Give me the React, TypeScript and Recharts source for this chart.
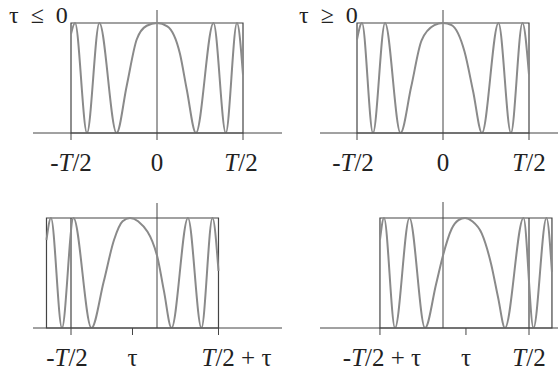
import React from "react"
import {
  ComposedChart,
  Line,
  XAxis,
  YAxis,
  ReferenceArea,
  ReferenceLine,
} from "recharts"

// Chirp intensity inside the window, time in units of T/2 (window edges at +-1 before the shift)
const curveNeg = [
  { t: -1, v: 0.9 },
  { t: -0.953, v: 1 },
  { t: -0.814, v: 0 },
  { t: -0.67, v: 1 },
  { t: -0.47, v: 0 },
  { t: -0.352, v: 0.43 },
  { t: -0.236, v: 0.85 },
  { t: -0.12, v: 0.975 },
  { t: 0, v: 1 },
  { t: 0.12, v: 0.97 },
  { t: 0.267, v: 0.72 },
  { t: 0.345, v: 0.4 },
  { t: 0.453, v: 0 },
  { t: 0.657, v: 1 },
  { t: 0.8, v: 0 },
  { t: 0.93, v: 1 },
  { t: 1, v: 0.53 },
]

const curvePos = [
  { t: -1, v: 0.85 },
  { t: -0.942, v: 1 },
  { t: -0.814, v: 0 },
  { t: -0.674, v: 1 },
  { t: -0.494, v: 0 },
  { t: -0.37, v: 0.42 },
  { t: -0.25, v: 0.84 },
  { t: -0.1, v: 0.98 },
  { t: 0, v: 1 },
  { t: 0.1, v: 0.98 },
  { t: 0.25, v: 0.74 },
  { t: 0.35, v: 0.38 },
  { t: 0.453, v: 0 },
  { t: 0.645, v: 1 },
  { t: 0.79, v: 0 },
  { t: 0.924, v: 1 },
  { t: 1, v: 0.53 },
]

// shifted windows: tau < 0 (left) and tau > 0 (right)
const tauNeg = -0.285
const tauPos = 0.267

const curveShiftNeg = [
  { t: -1.285, v: 0.8 },
  { t: -1.233, v: 1 },
  { t: -1.105, v: 0 },
  { t: -0.971, v: 1 },
  { t: -0.762, v: 0 },
  { t: -0.62, v: 0.42 },
  { t: -0.5, v: 0.8 },
  { t: -0.4, v: 0.97 },
  { t: -0.314, v: 1 },
  { t: -0.22, v: 0.97 },
  { t: 0, v: 0.66 },
  { t: 0.08, v: 0.34 },
  { t: 0.169, v: 0 },
  { t: 0.36, v: 1 },
  { t: 0.517, v: 0 },
  { t: 0.645, v: 1 },
  { t: 0.715, v: 0.52 },
]

const curveShiftPos = [
  { t: -0.733, v: 0.8 },
  { t: -0.686, v: 1 },
  { t: -0.558, v: 0 },
  { t: -0.39, v: 1 },
  { t: -0.209, v: 0 },
  { t: -0.08, v: 0.4 },
  { t: 0, v: 0.66 },
  { t: 0.1, v: 0.9 },
  { t: 0.18, v: 0.98 },
  { t: 0.256, v: 1 },
  { t: 0.34, v: 0.97 },
  { t: 0.45, v: 0.86 },
  { t: 0.56, v: 0.58 },
  { t: 0.64, v: 0.28 },
  { t: 0.721, v: 0 },
  { t: 0.936, v: 1 },
  { t: 1.052, v: 0 },
  { t: 1.203, v: 1 },
  { t: 1.267, v: 0.51 },
]

const ticksTop = [-1, 0, 1]
const labelsTop = ["-T/2", "0", "T/2"]
const ticksShiftNeg = [-1, tauNeg, 1 + tauNeg]
const labelsShiftNeg = ["-T/2", "τ", "T/2 + τ"]
const ticksShiftPos = [-1 + tauPos, tauPos, 1]
const labelsShiftPos = ["-T/2 + τ", "τ", "T/2"]

const INK = "#444"
const CURVE = "#8a8a8a"
const SERIF = "'Liberation Serif', 'DejaVu Serif', serif"

function MathText({ s }: { s: string }) {
  return (
    <>
      {s.split(/(T)/).map((p, i) =>
        p === "T" ? (
          <tspan key={i} fontStyle="italic">
            T
          </tspan>
        ) : (
          <tspan key={i}>{p}</tspan>
        )
      )}
    </>
  )
}

interface PanelProps {
  data: { t: number; v: number }[]
  left: number
  right: number
  top: number
  base: number
  x0: number
  unit: number
  win: [number, number]
  ticks: number[]
  labels: string[]
  shifts?: number[]
  inner?: number
}

function Panel({ data, left, right, top, base, x0, unit, win, ticks, labels, shifts = [], inner }: PanelProps) {
  const width = right - left
  const plotH = base - top
  const axisH = 48
  const domain: [number, number] = [(left - x0) / unit, (right - x0) / unit]
  const yTop = plotH / 110

  const renderTick = (props: any) => {
    const { x, y, index } = props
    return (
      <text
        x={x + (shifts[index] || 0)}
        y={y + 31}
        textAnchor="middle"
        fontFamily={SERIF}
        fontSize={25}
        fill="#222"
      >
        <MathText s={labels[index]} />
      </text>
    )
  }

  return (
    <div style={{ position: "absolute", left, top }}>
      <ComposedChart
        width={width}
        height={plotH + axisH}
        data={data}
        margin={{ top: 0, right: 0, bottom: 0, left: 0 }}
      >
        <XAxis
          dataKey="t"
          type="number"
          domain={domain}
          allowDataOverflow
          ticks={ticks}
          interval={0}
          height={axisH}
          tickSize={7}
          tickMargin={0}
          stroke={INK}
          tick={renderTick}
        />
        <YAxis hide type="number" domain={[0, yTop]} allowDataOverflow />
        <ReferenceArea
          x1={win[0]}
          x2={win[1]}
          y1={0}
          y2={1}
          fill="none"
          fillOpacity={0}
          stroke={INK}
          strokeWidth={1.2}
        />
        {inner !== undefined && (
          <ReferenceLine
            segment={[
              { x: inner, y: 0 },
              { x: inner, y: 1 },
            ]}
            stroke={INK}
            strokeWidth={1.2}
          />
        )}
        <ReferenceLine x={0} stroke={INK} strokeWidth={1} />
        <Line
          dataKey="v"
          type="monotone"
          stroke={CURVE}
          strokeWidth={2}
          dot={false}
          isAnimationActive={false}
        />
      </ComposedChart>
    </div>
  )
}

const titleStyle: React.CSSProperties = {
  position: "absolute",
  fontFamily: SERIF,
  fontSize: 24,
  lineHeight: "24px",
  color: "#222",
  whiteSpace: "pre",
}

export default function App() {
  return (
    <div
      style={{
        position: "absolute",
        left: 0,
        top: 0,
        width: 558,
        height: 374,
        background: "#fff",
        overflow: "hidden",
      }}
    >
      <span style={{ ...titleStyle, left: 9, top: 3 }}>τ  ≤  0</span>
      <span style={{ ...titleStyle, left: 299, top: 3 }}>τ  ≥  0</span>

      <Panel
        data={curveNeg}
        left={33}
        right={282}
        top={10}
        base={133}
        x0={157}
        unit={86}
        win={[-1, 1]}
        ticks={ticksTop}
        labels={labelsTop}
        shifts={[0, 0, -2]}
      />
      <Panel
        data={curvePos}
        left={320}
        right={558}
        top={10}
        base={133}
        x0={443}
        unit={86}
        win={[-1, 1]}
        ticks={ticksTop}
        labels={labelsTop}
        shifts={[-4, 0, 0]}
      />
      <Panel
        data={curveShiftNeg}
        left={33}
        right={282}
        top={203}
        base={328}
        x0={157}
        unit={86}
        win={[-1 + tauNeg, 1 + tauNeg]}
        ticks={ticksShiftNeg}
        labels={labelsShiftNeg}
        shifts={[-4, 0, 18]}
        inner={-1}
      />
      <Panel
        data={curveShiftPos}
        left={320}
        right={558}
        top={202}
        base={328}
        x0={443}
        unit={86}
        win={[-1 + tauPos, 1 + tauPos]}
        ticks={ticksShiftPos}
        labels={labelsShiftPos}
        shifts={[2, 0, 0]}
        inner={1}
      />
    </div>
  )
}
